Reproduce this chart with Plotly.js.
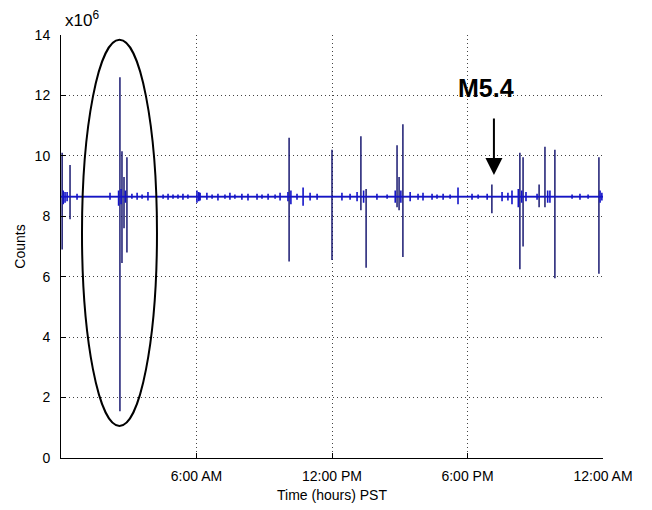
<!DOCTYPE html>
<html>
<head>
<meta charset="utf-8">
<script src="https://cdn.plot.ly/plotly-3.0.1.min.js"></script>
<style>
  html, body { margin: 0; padding: 0; background: #fff; }
  #chart { width: 652px; height: 510px; }
</style>
</head>
<body>
<div id="chart"></div>
<script>
// Baseline count level (millions)
const baseline = 8.65;

// Large excursions: time (hours PST), peak and trough (x10^6 counts)
const spikeHour = [0.05, 0.40, 2.61, 2.70, 2.79, 2.92, 10.10, 12.00, 13.28, 13.51, 14.88, 14.97, 15.14, 19.08, 20.32, 20.46, 21.17, 21.43, 21.87, 23.82];
const spikeHigh = [10.1, 9.7, 12.6, 10.15, 9.3, 9.95, 10.6, 10.2, 10.65, 8.9, 10.35, 9.3, 11.05, 9.05, 10.1, 9.95, 9.05, 10.3, 10.2, 9.95];
const spikeLow  = [6.9, 7.9, 1.55, 6.45, 7.6, 6.8, 6.5, 6.55, 8.2, 6.3, 8.3, 8.2, 6.65, 8.1, 6.25, 7.0, 8.3, 8.3, 5.95, 6.1];

// Small background fluctuations along the baseline
const noiseHour = [0.10, 0.18, 0.27, 0.71, 2.17, 2.55, 2.66, 2.85, 3.14, 3.37, 3.59, 3.85, 4.52, 4.74, 4.96, 5.18, 5.40, 5.62, 6.02, 6.10, 6.16, 6.46, 6.69, 6.95, 7.26, 7.48, 7.70, 8.01, 8.28, 8.68, 8.90, 9.17, 9.48, 9.70, 10.05, 10.18, 10.45, 10.72, 11.03, 11.34, 12.44, 12.80, 13.11, 13.40, 13.99, 14.44, 14.80, 15.05, 15.46, 15.81, 16.03, 16.43, 16.65, 16.92, 17.23, 17.58, 18.20, 18.47, 18.87, 19.53, 19.79, 19.97, 20.25, 20.40, 20.59, 21.08, 21.55, 21.65, 22.63, 22.98, 23.34, 23.87, 23.95];
const noiseHigh = [8.85, 8.8, 8.8, 8.75, 8.78, 8.85, 8.9, 8.85, 8.75, 8.78, 8.72, 8.8, 8.72, 8.75, 8.72, 8.72, 8.75, 8.72, 8.85, 8.8, 8.78, 8.78, 8.72, 8.75, 8.72, 8.78, 8.72, 8.75, 8.75, 8.75, 8.72, 8.75, 8.72, 8.78, 8.8, 8.85, 8.75, 8.95, 8.78, 8.75, 8.78, 8.75, 8.8, 8.85, 8.75, 8.72, 8.85, 8.85, 8.8, 8.75, 8.78, 8.75, 8.72, 8.75, 8.72, 8.95, 8.75, 8.72, 8.75, 8.8, 8.78, 8.85, 8.9, 8.85, 8.8, 8.75, 8.85, 8.85, 8.72, 8.75, 8.72, 8.85, 8.78];
const noiseLow  = [8.4, 8.45, 8.5, 8.55, 8.55, 8.35, 8.4, 8.45, 8.58, 8.55, 8.58, 8.52, 8.58, 8.55, 8.58, 8.58, 8.55, 8.58, 8.45, 8.5, 8.52, 8.55, 8.58, 8.52, 8.58, 8.55, 8.58, 8.55, 8.52, 8.55, 8.58, 8.55, 8.58, 8.52, 8.5, 8.4, 8.55, 8.35, 8.52, 8.55, 8.52, 8.55, 8.5, 8.45, 8.55, 8.58, 8.45, 8.45, 8.5, 8.55, 8.52, 8.55, 8.58, 8.55, 8.58, 8.4, 8.55, 8.58, 8.55, 8.5, 8.52, 8.4, 8.3, 8.45, 8.5, 8.55, 8.45, 8.45, 8.58, 8.55, 8.58, 8.45, 8.52];

// Axis tick positions and labels
const xTickVals = [6, 12, 18, 24];
const xTickText = ['6:00 AM', '12:00 PM', '6:00 PM', '12:00 AM'];
const yTickVals = [0, 2, 4, 6, 8, 10, 12, 14];

// Build a continuous trace: each event is drawn as a vertical excursion from the baseline
function traceFrom(hours, highs, lows, start, end) {
  const order = hours.map((h, i) => i).sort((a, b) => hours[a] - hours[b]);
  const xs = [start], ys = [baseline];
  order.forEach(i => {
    xs.push(hours[i], hours[i], hours[i], hours[i]);
    ys.push(baseline, highs[i], lows[i], baseline);
  });
  xs.push(end); ys.push(baseline);
  return { xs, ys };
}

const spikes = traceFrom(spikeHour, spikeHigh, spikeLow, 0, 24);
const noise = traceFrom(noiseHour, noiseHigh, noiseLow, 0, 24);

const traces = [
  {
    x: spikes.xs, y: spikes.ys, type: 'scatter', mode: 'lines',
    line: { color: '#0a0a68', width: 1.4 }, hoverinfo: 'skip'
  },
  {
    x: noise.xs, y: noise.ys, type: 'scatter', mode: 'lines',
    line: { color: '#1414c8', width: 1.6 }, hoverinfo: 'skip'
  }
];

const font = { family: 'Liberation Sans, Arial, sans-serif', size: 14, color: '#000' };

const layout = {
  width: 652, height: 510,
  margin: { l: 61, r: 49, t: 35, b: 52 },
  paper_bgcolor: '#fff', plot_bgcolor: '#fff',
  showlegend: false,
  font: font,
  xaxis: {
    range: [0, 24], tickvals: xTickVals, ticktext: xTickText,
    ticks: 'inside', ticklen: 5, tickcolor: '#000', tickwidth: 1,
    showline: true, linecolor: '#000', linewidth: 1, mirror: false,
    showgrid: true, gridcolor: '#444', gridwidth: 1, griddash: '1px,3px',
    zeroline: false, ticklabelstandoff: 5, tickfont: font,
    title: { text: 'Time (hours) PST', font: font, standoff: 7 }
  },
  yaxis: {
    range: [0, 14], tickvals: yTickVals,
    ticks: 'inside', ticklen: 5, tickcolor: '#000', tickwidth: 1,
    showline: true, linecolor: '#000', linewidth: 1, mirror: false,
    showgrid: true, gridcolor: '#444', gridwidth: 1, griddash: '1px,3px',
    zeroline: false, ticklabelstandoff: 7, tickfont: font,
    title: { text: 'Counts', font: font, standoff: 5 }
  },
  shapes: [
    {
      type: 'circle', xref: 'x', yref: 'y',
      x0: 0.93, x1: 4.25, y0: 1.06, y1: 13.84,
      line: { color: '#000', width: 2 }
    }
  ],
  annotations: [
    {
      xref: 'paper', yref: 'paper', x: 0.003, y: 1.037,
      xanchor: 'left', yanchor: 'middle', showarrow: false,
      text: 'x10<sup>6</sup>',
      font: { family: 'Liberation Sans, Arial, sans-serif', size: 17, color: '#000' }
    },
    {
      xref: 'x', yref: 'y', x: 18.82, y: 12.25,
      xanchor: 'center', yanchor: 'middle', showarrow: false,
      text: '<b>M5.4</b>',
      font: { family: 'Liberation Sans, Arial, sans-serif', size: 25, color: '#000' }
    },
    {
      xref: 'x', yref: 'y', axref: 'x', ayref: 'y',
      x: 19.17, y: 9.37, ax: 19.17, ay: 11.29,
      text: '', showarrow: true,
      arrowhead: 2, arrowsize: 1.7, arrowwidth: 2, arrowcolor: '#000'
    }
  ]
};

Plotly.newPlot('chart', traces, layout, { displayModeBar: false, staticPlot: true });
</script>
</body>
</html>
